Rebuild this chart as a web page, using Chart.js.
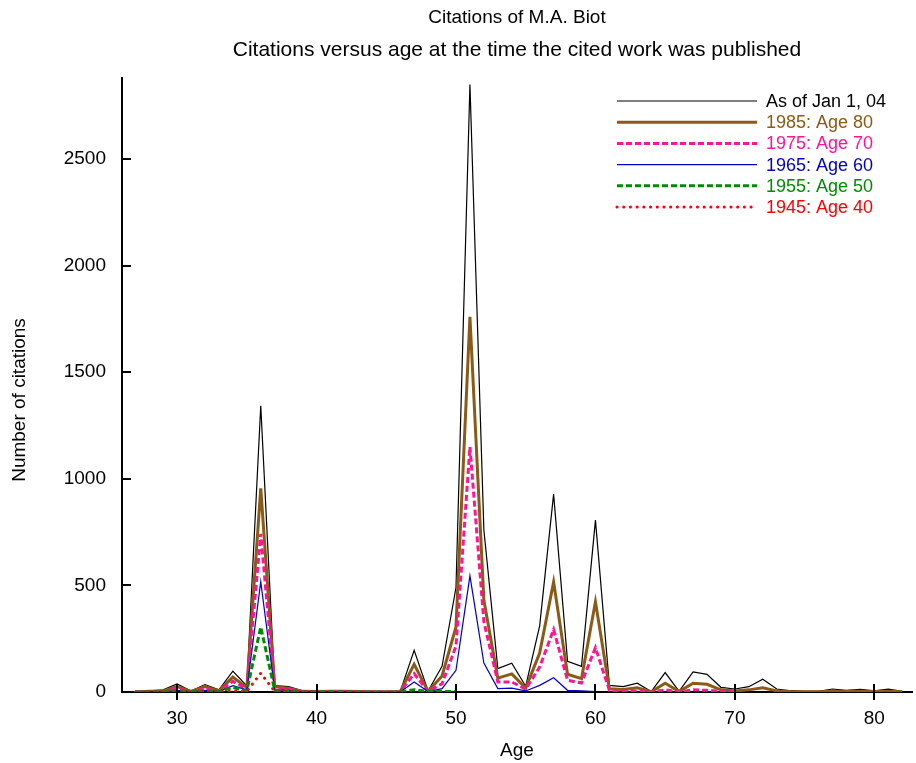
<!DOCTYPE html>
<html>
<head>
<meta charset="utf-8">
<script src="https://cdn.jsdelivr.net/npm/chart.js@4.4.1/dist/chart.umd.min.js"></script>
<style>
  html, body { margin: 0; padding: 0; background: #fff; }
  #wrap { width: 916px; height: 763px; position: relative; }
</style>
</head>
<body>
<div id="wrap"><canvas id="biotchart"></canvas></div>
<script>
// age at time cited work was published
const ages = [27,28,29,30,31,32,33,34,35,36,37,38,39,40,41,42,43,44,45,46,47,48,49,50,51,52,53,54,
  55,56,57,58,59,60,61,62,63,64,65,66,67,68,69,70,71,72,73,74,75,76,77,78,79,80,81,82];

const citesNow = [0,5,10,38,5,35,10,98,28,1343,30,25,5,3,5,5,3,2,2,2,195,5,120,490,2850,760,110,135,
  27,310,928,144,120,806,31,25,41,2,91,3,94,83,22,14,25,60,14,6,3,3,14,8,12,5,13,3];
const cites1985 = [0,3,5,25,3,25,5,70,20,955,25,18,3,2,3,3,2,1,1,1,130,3,75,305,1760,430,65,85,
  18,183,516,83,63,423,15,12,20,1,41,2,41,36,10,5,10,20,5,2,1,1,3,2,3,2,3,1];
const cites1975 = [0,2,3,15,2,15,3,50,15,742,20,14,2,1,2,2,1,1,1,1,86,2,39,215,1150,330,47,47,
  14,117,293,55,42,208,8,5,5,0,10,0,10,8,3,2];
const cites1965 = [0,1,2,8,1,8,2,30,10,517,10,8,1,1,1,1,0,0,0,0,47,2,16,102,545,136,16,18,
  5,31,67,8,5,2];
const cites1955 = [0,1,1,5,1,5,1,22,5,305,8,5,1,1,1,1,0,0,0,0,11,2,2,2];
const cites1945 = [0,1,1,3,1,2,1,5,3,88,3,2,1,1];

const seriesLabels = ["As of Jan 1, 04","1985: Age 80","1975: Age 70","1965: Age 60","1955: Age 50","1945: Age 40"];
const xTicks = [30,40,50,60,70,80];
const yTicks = [0,500,1000,1500,2000,2500];

const FONT = "'Liberation Sans', Arial, Helvetica, sans-serif";

function pts(vals) {
  return vals.map(function (v, i) { return { x: ages[i], y: v }; });
}

const styles = [
  { color: '#000000', width: 1.2, dash: [], cap: 'butt' },
  { color: '#8b5a14', width: 3, dash: [], cap: 'butt' },
  { color: '#ff1493', width: 3, dash: [6, 3], cap: 'butt' },
  { color: '#0000c8', width: 1.2, dash: [], cap: 'butt' },
  { color: '#008c00', width: 3, dash: [6, 3], cap: 'butt' },
  { color: '#ff0000', width: 3, dash: [0.1, 6.6], cap: 'round' }
];
const allSeries = [citesNow, cites1985, cites1975, cites1965, cites1955, cites1945];

const datasets = allSeries.map(function (vals, i) {
  return {
    label: seriesLabels[i],
    data: pts(vals),
    borderColor: styles[i].color,
    backgroundColor: styles[i].color,
    borderWidth: styles[i].width,
    borderDash: styles[i].dash,
    borderCapStyle: styles[i].cap,
    pointRadius: 0,
    tension: 0,
    order: allSeries.length - i
  };
});

// tick marks drawn by hand: inward on y, crossing on x
const axisTicks = {
  id: 'axisTicks',
  afterDraw(chart) {
    const ctx = chart.ctx, xs = chart.scales.x, ys = chart.scales.y;
    const a = chart.chartArea;
    ctx.save();
    ctx.strokeStyle = '#000';
    ctx.lineWidth = 2;
    ctx.beginPath();
    xTicks.forEach(function (t) {
      const px = Math.round(xs.getPixelForValue(t));
      ctx.moveTo(px, a.bottom - 8); ctx.lineTo(px, a.bottom + 8);
    });
    yTicks.forEach(function (t) {
      const py = Math.round(ys.getPixelForValue(t));
      ctx.moveTo(a.left, py); ctx.lineTo(a.left + 9, py);
    });
    ctx.stroke();
    // y axis title, sits a bit below the middle of the axis
    ctx.fillStyle = '#000';
    ctx.font = '19px ' + FONT;
    ctx.textAlign = 'center';
    ctx.textBaseline = 'middle';
    ctx.translate(20, 400);
    ctx.rotate(-Math.PI / 2);
    ctx.fillText('Number of citations', 0, 0);
    ctx.restore();
  }
};

// legend in the top right corner of the plot
const cornerLegend = {
  id: 'cornerLegend',
  afterDraw(chart) {
    const ctx = chart.ctx, a = chart.chartArea;
    const x0 = a.right - 295, x1 = a.right - 155, tx = a.right - 146;
    ctx.save();
    ctx.font = '18px ' + FONT;
    ctx.textBaseline = 'middle';
    chart.data.datasets.forEach(function (ds, i) {
      const y = a.top + 23 + i * 21.2;
      ctx.beginPath();
      ctx.strokeStyle = ds.borderColor;
      ctx.lineWidth = ds.borderWidth;
      ctx.setLineDash(ds.borderDash);
      ctx.lineCap = ds.borderCapStyle;
      ctx.moveTo(x0, y);
      ctx.lineTo(x1, y);
      ctx.stroke();
      ctx.setLineDash([]);
      ctx.fillStyle = ds.borderColor;
      ctx.fillText(ds.label, tx, y + 1);
    });
    ctx.restore();
  }
};

const config = {
  type: 'line',
  data: { datasets: datasets },
  options: {
    responsive: true,
    maintainAspectRatio: false,
    animation: false,
    layout: { padding: { top: 0, right: 4, left: 0, bottom: 0 } },
    scales: {
      x: {
        type: 'linear',
        min: 26.05,
        max: 82.7,
        afterFit: function (s) { s.height = 71; },
        afterBuildTicks: function (s) { s.ticks = xTicks.map(function (v) { return { value: v }; }); },
        grid: { display: true, drawOnChartArea: false, drawTicks: false },
        border: { display: true, color: '#000', width: 2 },
        ticks: { padding: 15, color: '#000', font: { family: FONT, size: 19 } },
        title: { display: true, text: 'Age', color: '#000', padding: { top: 0, bottom: 1 }, font: { family: FONT, size: 19 } }
      },
      y: {
        type: 'linear',
        min: 0,
        max: 2880,
        afterFit: function (s) { s.width = 122; },
        afterBuildTicks: function (s) { s.ticks = yTicks.map(function (v) { return { value: v }; }); },
        grid: { display: true, drawOnChartArea: false, drawTicks: false },
        border: { display: true, color: '#000', width: 2 },
        ticks: {
          padding: 16, color: '#000', font: { family: FONT, size: 19 },
          callback: function (v) { return String(v); }
        },
        title: { display: false }
      }
    },
    plugins: {
      legend: { display: false },
      tooltip: { enabled: false },
      title: {
        display: true,
        text: 'Citations of M.A. Biot',
        fullSize: false,
        color: '#000',
        font: { family: FONT, size: 19, weight: 'normal' },
        padding: { top: 6.6, bottom: 4 }
      },
      subtitle: {
        display: true,
        text: 'Citations versus age at the time the cited work was published',
        fullSize: false,
        color: '#000',
        font: { family: FONT, size: 21 },
        padding: { top: 4, bottom: 15.4 }
      }
    }
  },
  plugins: [axisTicks, cornerLegend]
};

const biotChart = new Chart(document.getElementById('biotchart'), config);
</script>
</body>
</html>
